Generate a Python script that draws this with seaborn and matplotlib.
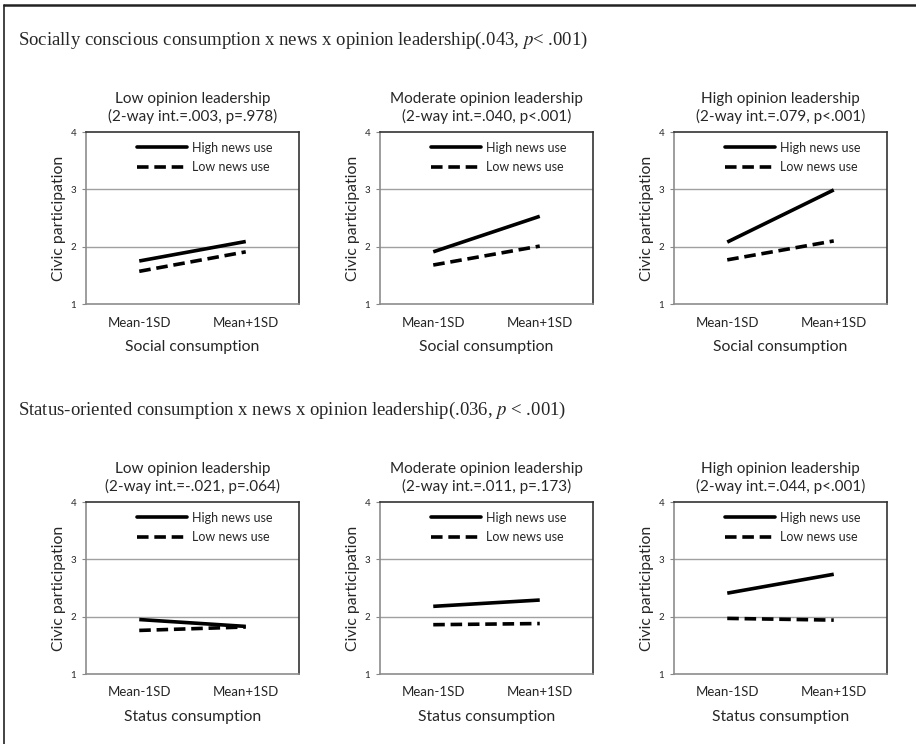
import numpy as np
import pandas as pd
import matplotlib
matplotlib.use('Agg')
import matplotlib.pyplot as plt
import seaborn as sns
from matplotlib.lines import Line2D

# data
levels = ['Mean-1SD', 'Mean+1SD']
panel_titles = ['Low opinion leadership', 'Moderate opinion leadership', 'High opinion leadership']

social_stats = ['(2-way int.=.003, p=.978)', '(2-way int.=.040, p<.001)', '(2-way int.=.079, p<.001)']
social_high = [[1.75, 2.09], [1.91, 2.53], [2.08, 2.99]]
social_low = [[1.57, 1.91], [1.68, 2.01], [1.77, 2.10]]

status_stats = ['(2-way int.=-.021, p=.064)', '(2-way int.=.011, p=.173)', '(2-way int.=.044, p<.001)']
status_high = [[1.95, 1.83], [2.18, 2.29], [2.41, 2.74]]
status_low = [[1.76, 1.82], [1.86, 1.88], [1.97, 1.94]]

sns.set_style('white')
plt.rcParams['font.family'] = ['Lato', 'DejaVu Sans']
plt.rcParams['mathtext.fontset'] = 'stix'

W, H = 916, 744
fig = plt.figure(figsize=(W / 100, H / 100), dpi=100)

# frame around the figure (top and left only)
fig.add_artist(Line2D([4 / W, 4 / W], [0, 1 - 5 / H], transform=fig.transFigure, color='#222222', lw=1.2))
fig.add_artist(Line2D([4 / W, 1], [1 - 5 / H, 1 - 5 / H], transform=fig.transFigure, color='#222222', lw=1.8))

serif = ['Liberation Serif', 'DejaVu Serif']
fig.text(18 / W, 1 - 40 / H, 'Socially conscious consumption x news x opinion leadership(.043, $\\it{p}$< .001)',
         family=serif, fontsize=13.5, va='center', ha='left')
fig.text(18 / W, 1 - 410 / H, 'Status-oriented consumption x news x opinion leadership(.036, $\\it{p}$ < .001)',
         family=serif, fontsize=13.5, va='center', ha='left')

lefts = [86, 380, 674]
aw, ah = 213, 172
rows = [(132, social_stats, social_high, social_low, 'Social consumption'),
        (502, status_stats, status_high, status_low, 'Status consumption')]

for top, stats, highs, lows, xlab in rows:
    for i, left in enumerate(lefts):
        ax = fig.add_axes([left / W, 1 - (top + ah) / H, aw / W, ah / H])
        df = pd.DataFrame({
            'x': [0, 1, 0, 1],
            'y': highs[i] + lows[i],
            'news': ['High news use'] * 2 + ['Low news use'] * 2,
        })
        sns.lineplot(data=df, x='x', y='y', hue='news', style='news',
                     palette=['black', 'black'], dashes=[(1, 0), (3.2, 1.6)],
                     linewidth=2.6, legend=False, ax=ax)
        ax.set_xlim(-0.5, 1.5)
        ax.set_ylim(1, 4)
        ax.set_yticks([1, 2, 3, 4])
        ax.set_yticklabels(['1', '2', '3', '4'], fontsize=7)
        ax.set_xticks([0, 1])
        ax.set_xticklabels(levels, fontsize=9.5)
        ax.tick_params(axis='x', length=0, pad=9)
        ax.tick_params(axis='y', length=3, width=0.8, color='#888888', pad=4, direction='out', left=True)
        for y in [2, 3]:
            ax.axhline(y, color='#a0a0a0', lw=1, zorder=0)
        for s in ['left', 'bottom']:
            ax.spines[s].set_color('#8c8c8c')
            ax.spines[s].set_linewidth(1.2)
        for s in ['top', 'right']:
            ax.spines[s].set_color('#333333')
            ax.spines[s].set_linewidth(1.2)
        ax.set_xlabel(xlab, fontsize=11.3, labelpad=8)
        ax.set_ylabel('Civic participation', fontsize=11.3, labelpad=3)
        ax.set_title(panel_titles[i] + '\n' + stats[i], fontsize=11, pad=8, linespacing=1.25)
        handles = [Line2D([], [], color='black', lw=2.6),
                   Line2D([], [], color='black', lw=2.6, dashes=(3.2, 1.6))]
        ax.legend(handles, ['High news use', 'Low news use'], frameon=False, fontsize=9,
                  loc='upper left', bbox_to_anchor=(0.2, 0.995), handlelength=4.0,
                  handletextpad=0.4, labelspacing=0.6, borderaxespad=0.3)

fig.savefig('out.png', dpi=100)
